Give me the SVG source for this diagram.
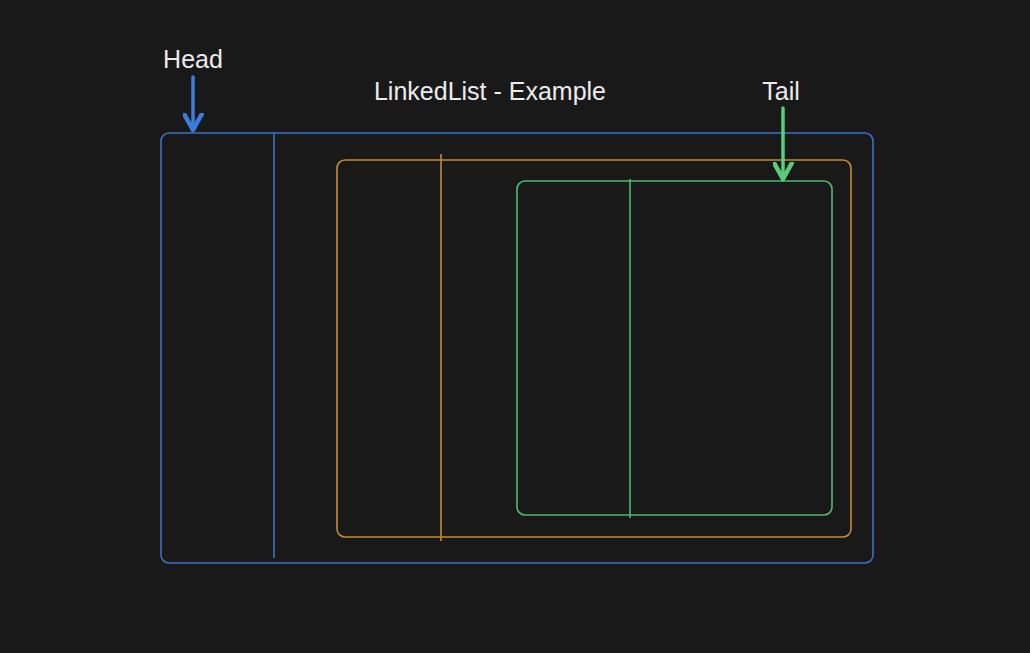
<svg xmlns="http://www.w3.org/2000/svg" width="1030" height="653" viewBox="0 0 1030 653">
<style>
text{font-family:"Liberation Sans",Arial,sans-serif;font-size:25px;fill:#ececec;text-anchor:middle}
.b{stroke:#3d6fc2;fill:none;stroke-width:1.6}
.o{stroke:#c28a35;fill:none;stroke-width:1.6}
.g{stroke:#52b86c;fill:none;stroke-width:1.6}
</style>
<defs>
<marker id="ab" markerWidth="6" markerHeight="6" refX="5" refY="3" orient="auto" markerUnits="strokeWidth"><path d="M0.5,0.5 L5,3 L0.5,5.5" fill="none" stroke="#3b7ddd" stroke-width="1.3" stroke-linecap="round" stroke-linejoin="round"/></marker>
<marker id="ag" markerWidth="6" markerHeight="6" refX="5" refY="3" orient="auto" markerUnits="strokeWidth"><path d="M0.5,0.5 L5,3 L0.5,5.5" fill="none" stroke="#5ccb7c" stroke-width="1.3" stroke-linecap="round" stroke-linejoin="round"/></marker>
</defs>
<rect width="1030" height="653" fill="#191919"/>
<text x="490" y="100">LinkedList - Example</text>
<g id="node-head">
<rect class="b" x="161" y="133" width="712" height="430" rx="8"/>
<line class="b" x1="274" y1="133" x2="274" y2="558"/>
<text x="193" y="68">Head</text>
</g>
<g id="node-middle">
<rect class="o" x="337" y="160" width="514" height="377" rx="8"/>
<line class="o" x1="441" y1="154" x2="441" y2="541"/>
</g>
<g id="node-tail">
<rect class="g" x="517" y="181" width="315" height="334" rx="8"/>
<line class="g" x1="630" y1="179" x2="630" y2="518"/>
<text x="781" y="100">Tail</text>
</g>
<g id="connectors">
<line x1="193" y1="77" x2="193" y2="130" stroke="#3b7ddd" stroke-width="3.5" stroke-linecap="round" marker-end="url(#ab)"/>
<line x1="783" y1="108" x2="783" y2="179" stroke="#5ccb7c" stroke-width="3.5" stroke-linecap="round" marker-end="url(#ag)"/>
</g>
</svg>
